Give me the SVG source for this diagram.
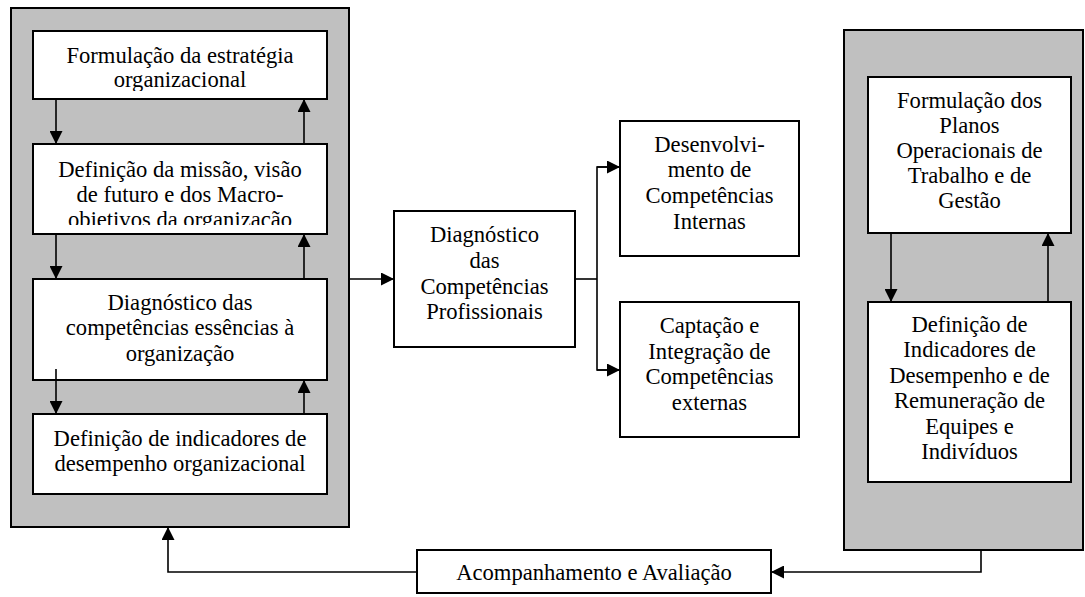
<svg xmlns="http://www.w3.org/2000/svg" width="1085" height="597" viewBox="0 0 1085 597">
<style>
.panel{fill:#c0c0c0;stroke:#000;stroke-width:2}
.box{fill:#fff;stroke:#000;stroke-width:2}
.t{font-family:"Liberation Serif","Times New Roman",serif;font-size:22.6px;fill:#000;text-anchor:middle}
.c{fill:none;stroke:#000;stroke-width:1.6}
</style>
<defs>
<marker id="ah" viewBox="0 0 13 13" refX="13" refY="6.5" markerWidth="13" markerHeight="13" markerUnits="userSpaceOnUse" orient="auto">
<path d="M0,0 L13,6.5 L0,13 Z" fill="#000"/>
</marker>
<clipPath id="cl1"><rect x="33" y="31" width="294" height="60"/></clipPath>
<clipPath id="cl2"><rect x="33" y="144" width="294" height="81"/></clipPath>
</defs>
<g id="painel-esquerdo"><rect class="panel" x="11" y="8" width="338" height="519"/></g>
<g id="painel-direito"><rect class="panel" x="844" y="30" width="239" height="520"/></g>
<g id="formulacao-estrategia">
<rect class="box" x="33" y="31" width="294" height="68"/>
<text class="t" clip-path="url(#cl1)"><tspan x="180" y="63">Formulação da estratégia</tspan><tspan x="180" y="87">organizacional</tspan></text>
</g>
<g id="definicao-missao">
<rect class="box" x="33" y="144" width="294" height="90"/>
<text class="t" clip-path="url(#cl2)"><tspan x="180" y="177">Definição da missão, visão</tspan><tspan x="180" y="202">de futuro e dos Macro-</tspan><tspan x="180" y="227">objetivos da organização</tspan></text>
</g>
<g id="diagnostico-essencias">
<rect class="box" x="33" y="279" width="294" height="101"/>
<text class="t"><tspan x="180" y="310">Diagnóstico das</tspan><tspan x="180" y="335">competências essências à</tspan><tspan x="180" y="361">organização</tspan></text>
</g>
<g id="indicadores-organizacional">
<rect class="box" x="33" y="414" width="294" height="80"/>
<text class="t"><tspan x="180" y="446">Definição de indicadores de</tspan><tspan x="180" y="471">desempenho organizacional</tspan></text>
</g>
<g id="diagnostico-profissionais">
<rect class="box" x="394" y="211" width="181" height="136"/>
<text class="t"><tspan x="484.5" y="242">Diagnóstico</tspan><tspan x="484.5" y="268">das</tspan><tspan x="484.5" y="294">Competências</tspan><tspan x="484.5" y="319">Profissionais</tspan></text>
</g>
<g id="desenvolvimento">
<rect class="box" x="620" y="121" width="179" height="135"/>
<text class="t"><tspan x="709.5" y="152">Desenvolvi-</tspan><tspan x="709.5" y="177">mento de</tspan><tspan x="709.5" y="203">Competências</tspan><tspan x="709.5" y="229">Internas</tspan></text>
</g>
<g id="captacao">
<rect class="box" x="620" y="302" width="179" height="135"/>
<text class="t"><tspan x="709.5" y="333">Captação e</tspan><tspan x="709.5" y="359">Integração de</tspan><tspan x="709.5" y="384">Competências</tspan><tspan x="709.5" y="410">externas</tspan></text>
</g>
<g id="planos-operacionais">
<rect class="box" x="868" y="77" width="203" height="156"/>
<text class="t"><tspan x="969.5" y="108">Formulação dos</tspan><tspan x="969.5" y="133">Planos</tspan><tspan x="969.5" y="158">Operacionais de</tspan><tspan x="969.5" y="183">Trabalho e de</tspan><tspan x="969.5" y="208">Gestão</tspan></text>
</g>
<g id="indicadores-equipes">
<rect class="box" x="868" y="302" width="203" height="180"/>
<text class="t"><tspan x="969.5" y="332">Definição de</tspan><tspan x="969.5" y="357">Indicadores de</tspan><tspan x="969.5" y="383">Desempenho e de</tspan><tspan x="969.5" y="408">Remuneração de</tspan><tspan x="969.5" y="434">Equipes e</tspan><tspan x="969.5" y="459">Indivíduos</tspan></text>
</g>
<g id="acompanhamento">
<rect class="box" x="417" y="550" width="354" height="43"/>
<text class="t"><tspan x="594" y="580">Acompanhamento e Avaliação</tspan></text>
</g>
<g id="conectores">
<line class="c" x1="56" y1="99" x2="56" y2="144" marker-end="url(#ah)"/>
<line class="c" x1="304" y1="144" x2="304" y2="99" marker-end="url(#ah)"/>
<line class="c" x1="56" y1="234" x2="56" y2="279" marker-end="url(#ah)"/>
<line class="c" x1="304" y1="279" x2="304" y2="234" marker-end="url(#ah)"/>
<line class="c" x1="56" y1="369" x2="56" y2="414" marker-end="url(#ah)"/>
<line class="c" x1="304" y1="414" x2="304" y2="380" marker-end="url(#ah)"/>
<line class="c" x1="349" y1="279" x2="394" y2="279" marker-end="url(#ah)"/>
<line class="c" x1="575" y1="279" x2="597" y2="279"/>
<polyline class="c" points="620,167 597,167 597,370 620,370"/>
<line class="c" x1="597" y1="167" x2="620" y2="167" marker-end="url(#ah)"/>
<line class="c" x1="597" y1="370" x2="620" y2="370" marker-end="url(#ah)"/>
<line class="c" x1="891" y1="233" x2="891" y2="302" marker-end="url(#ah)"/>
<line class="c" x1="1048" y1="302" x2="1048" y2="233" marker-end="url(#ah)"/>
<polyline class="c" points="981,550 981,572 771,572" marker-end="url(#ah)"/>
<polyline class="c" points="417,572 168,572 168,527" marker-end="url(#ah)"/>
</g>
</svg>
